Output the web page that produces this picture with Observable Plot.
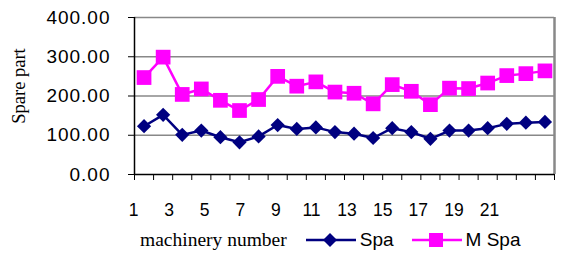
<!DOCTYPE html>
<html><head><meta charset="utf-8">
<script src="https://cdn.jsdelivr.net/npm/d3@7"></script>
<script src="https://cdn.jsdelivr.net/npm/@observablehq/plot@0.6"></script>
<style>
body{margin:0;background:#fff;}
#wrap{position:relative;width:561px;height:256px;overflow:hidden;font-family:"Liberation Sans",Arial,sans-serif;}
#main{position:absolute;left:0;top:0;}
#xlab{position:absolute;left:0;top:198px;}
#legend{position:absolute;left:140px;top:226px;height:28px;display:flex;align-items:center;white-space:nowrap;}
.ser{font-family:"Liberation Serif","Times New Roman",serif;font-size:19.5px;}
.item{display:flex;align-items:center;font-size:19px;}
.item svg{display:block;}
#main g[aria-label="y-axis tick label"] text{letter-spacing:1px;}
</style></head><body>
<div id="wrap"><div id="main"></div><div id="xlab"></div><div id="legend"></div></div>
<script>
const machines = [1,2,3,4,5,6,7,8,9,10,11,12,13,14,15,16,17,18,19,20,21,22];
const spa  = [123,152,101,112,95,82,97,126,116,120,108,104,93,118,108,91,112,112,118,129,132,134];
const mspa = [247,299,204,218,189,163,191,250,225,236,210,207,180,229,212,178,220,219,233,252,257,264];
const xTickLabels = [1,3,5,7,9,11,13,15,17,19,21];
const yTicks = [0,100,200,300,400];
const seriesNames = ["Spa","M Spa"];
const seriesColors = ["#000080","#FF00FF"];
const xTitle = "machinery number";
const yTitle = "Spare part";

const spaData = machines.map((m,i)=>({machine:m, value:spa[i]}));
const mspaData = machines.map((m,i)=>({machine:m, value:mspa[i]}));
const boundaries = machines.map(m=>m-0.5).concat([machines[machines.length-1]+0.5]);

const main = Plot.plot({
  width:561, height:186, marginLeft:134, marginRight:7, marginTop:17, marginBottom:12,
  style:{fontFamily:"Liberation Sans, Arial, sans-serif", background:"transparent", color:"#000"},
  x:{type:"linear", domain:[boundaries[0], boundaries[boundaries.length-1]]},
  y:{domain:[0,400]},
  marks:[
    Plot.gridY(yTicks.slice(1), {stroke:"#888", strokeOpacity:1, strokeWidth:1.5}),
    Plot.ruleX([boundaries[boundaries.length-1]], {stroke:"#888", strokeWidth:2.5}),
    Plot.ruleX([boundaries[0]], {stroke:"#000", strokeWidth:1.5}),
    Plot.ruleY([0], {stroke:"#000", strokeWidth:1.5}),
    Plot.axisY(yTicks, {tickFormat:d3.format(".2f"), tickSize:6, tickPadding:18, fontSize:19, label:null}),
    Plot.axisX(boundaries, {tickFormat:()=>"", tickSize:6, label:null}),
    Plot.text([yTitle], {frameAnchor:"left", textAnchor:"middle", rotate:-90, dx:-115, dy:-10, fontFamily:"Liberation Serif, Times New Roman, serif", fontSize:18.5}),
    Plot.line(spaData, {x:"machine", y:"value", stroke:seriesColors[0], strokeWidth:2.5}),
    Plot.line(mspaData, {x:"machine", y:"value", stroke:seriesColors[1], strokeWidth:2.5}),
    Plot.dot(spaData, {x:"machine", y:"value", symbol:"diamond2", fill:seriesColors[0], stroke:"none", r:6.4}),
    Plot.dot(mspaData, {x:"machine", y:"value", symbol:"square", fill:seriesColors[1], stroke:"none", r:8.3})
  ]
});
document.getElementById("main").appendChild(main);

const xl = Plot.plot({
  width:561, height:24, margin:0,
  style:{fontFamily:"Liberation Sans, Arial, sans-serif", background:"transparent", color:"#000"},
  x:{type:"linear", domain:[xTickLabels[0], xTickLabels[xTickLabels.length-1]], range:[133,489], axis:null},
  marks:[Plot.text(xTickLabels, {x:d=>d, frameAnchor:"middle", fontSize:17.5})]
});
document.getElementById("xlab").appendChild(xl);

const leg = document.getElementById("legend");
const t = document.createElement("span"); t.className="ser"; t.textContent=xTitle; leg.appendChild(t);
const syms = ["diamond","square"];
seriesNames.forEach((name,i)=>{
  const it = document.createElement("div"); it.className="item";
  it.style.marginLeft = i===0 ? "19px" : "18px";
  const marker = syms[i]==="diamond"
    ? `<polygon points="24,3 31,10 24,17 17,10" fill="${seriesColors[i]}"/>`
    : `<rect x="17" y="3" width="14" height="14" fill="${seriesColors[i]}"/>`;
  it.innerHTML = `<svg width="50" height="20"><line x1="0" y1="10" x2="50" y2="10" stroke="${seriesColors[i]}" stroke-width="2.5"/>${marker}</svg><span style="margin-left:4px">${name}</span>`;
  leg.appendChild(it);
});
</script>
</body></html>
